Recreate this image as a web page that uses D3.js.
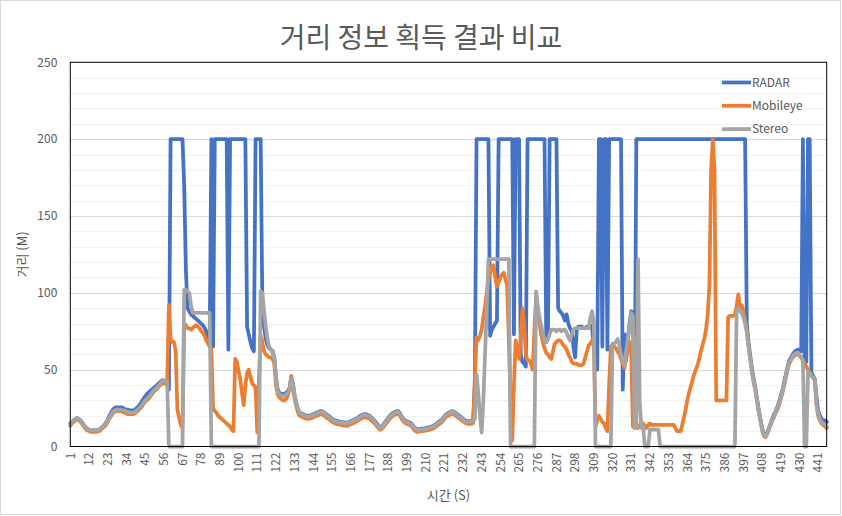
<!DOCTYPE html>
<html>
<head>
<meta charset="utf-8">
<script src="https://cdn.jsdelivr.net/npm/d3@7/dist/d3.min.js"></script>
<style>
  html, body { margin: 0; padding: 0; background: #fff; }
  svg { display: block; }
  text { font-family: "Noto Sans CJK KR", "Noto Sans", sans-serif; fill: #595959; }
</style>
</head>
<body>
<svg id="chart" width="842" height="516"></svg>
<script>
// ---------------- DATA ----------------
const chartTitle = "거리 정보 획득 결과 비교";
const xTitle = "시간 (S)";
const yTitle = "거리 (M)";
const seriesNames = ["RADAR", "Mobileye", "Stereo"];
const seriesColors = ["#4472C4", "#ED7D31", "#A5A5A5"];
const yTicks = [0, 50, 100, 150, 200, 250];
const yMinorTicks = [10,20,30,40,60,70,80,90,110,120,130,140,160,170,180,190,210,220,230,240];
const xTickLabels = [1,12,23,34,45,56,67,78,89,100,111,122,133,144,155,166,177,188,199,210,221,232,243,254,265,276,287,298,309,320,331,342,353,364,375,386,397,408,419,430,441];

const radar = [
15,16,17,18,18.5,18,17,15.5,14,12.5,
11.5,11,10.5,10.5,10.5,10.5,10.8,11,12,13,
14,15.5,17.5,20,22,24,25,25.5,25.5,25.5,
25.5,25,24.5,24,24,23.5,23.5,23.5,24,25,
26,27.5,29,31,32.5,34,35,36,37,38,
39,40,41,42,43,43,42,40,37,200,
200,200,200,200,200,200,200,170,115,90,
88,86,85,84,83,82,81,80,79,77,
75,72,68,200,65,200,200,200,200,200,
200,200,200,63,200,200,200,200,200,200,
200,200,200,200,78,73,68,64,62,200,
200,200,200,90,78,70,66,64,63,62,
58,45,37,35,34,34,34,35,36,38,
45,41,33,28,24,22,21.5,21,20.5,20,
20,20.3,20.5,21,21.5,22,22.5,23,23,22.5,
21.5,20.5,20,19,18,17.5,17,16.5,16.3,16,
15.8,15.7,15.5,15.5,16,16.5,17,17.5,18,18.7,
19.5,20.2,20.7,21,21,20.5,20,19,18,16.8,
15.5,14,12.5,12.7,14,15.5,17,18.5,20,21,
22,22.5,23,23,21.5,19.5,18,17,16.5,16,
15.5,14.5,13,12,11.2,11.3,11.5,11.7,11.8,12,
12.3,12.5,12.8,13.2,13.7,14.5,15.5,16.3,17,18,
19.5,20.8,21.5,22.2,22.7,23,22.5,21.5,20.5,20,
19,18,17.3,16.7,16.5,16.5,16.5,17,40,200,
200,200,200,200,200,200,200,72,76,78,
80,82,200,200,200,200,200,200,200,200,
200,73,200,200,200,60,55,54,52,200,
200,200,200,200,200,200,200,200,200,200,
68,70,200,200,200,200,200,90,88,87,
85,82,86,80,77,75,65,58,77,78,
78,78,77,77,78,78,79,77,65,55,
50,200,200,65,200,200,63,200,200,200,
200,200,200,200,200,37,73,56,70,80,
88,87,13,200,200,200,200,200,200,200,
200,200,200,200,200,200,200,200,200,200,
200,200,200,200,200,200,200,200,200,200,
200,200,200,200,200,200,200,200,200,200,
200,200,200,200,200,200,200,200,200,200,
200,200,200,200,200,200,200,200,200,200,
200,200,200,200,200,200,200,200,80,68,
59,51,44,38,31,24,18,12,8,7,
9,12,15,18,21,23,26,29,33,37,
42,47,52,56,58,60,61.5,62.5,63,63,
62,200,58,55,200,200,48,46,44,32,
23,20,18,17,17,16
];

const mobileye = [
13.5,15,16,17,17.5,17,16,14.5,13,11.5,
10.5,10,9.5,9.5,9.5,9.5,9.8,10,11,12,
13,14,16,18,20,21.5,22.5,23,23,23,
23,22.5,22,21.5,21,21,21,21,21.5,22.5,
23.5,24.5,26,27.5,29,30,31,32.5,34,35.5,
36.5,37.5,39,40,41,41,41,42,92,70,
68,68,62,24,19,14,12,80,79,77,
77,76,77,78,79,78,77,75,74,72,
69,67,65,64,25,23,22,20,19,18,
17,16,15,14,13,11,10,57,55,49,
44,35,27,40,48,50,45,41,40,38,
9,45,72,68,62,60,59,58,58,57,
54,40,34,32,31,30,30,31,33,37,
46,37,31,26,22,20,19.5,19,18.5,18,
18,18.3,18.5,19,19.5,20,20.5,21,21,20.5,
19.5,18.5,18,17,16,15.5,15,14.5,14.3,14,
13.8,13.7,13.5,13.5,14,14.5,15,15.5,16,16.7,
17.5,18.2,18.7,19,19,18.5,18,17,16,15,
13.7,12.3,11,11.2,12.3,13.7,15.2,16.7,18.2,19.2,
20.2,20.7,21.2,21.3,19.8,17.8,16.3,15.3,14.8,14.3,
13.8,12.8,11.2,10.2,9.5,9.6,9.8,10,10.1,10.3,
10.6,10.8,11.1,11.5,12,12.8,13.8,14.6,15.3,16.3,
17.8,19.1,19.8,20.5,21,21.4,20.8,19.8,18.8,18.2,
17.3,16.3,15.6,15,14.8,14.8,14.8,15.2,45,71,
69,72,76,84,91,100,108,113,117,118,
110,104,107,110,112,113,109,105,70,30,
4,40,69,63,57,70,90,80,60,56,
56,54,50,75,96,88,80,73,68,64,
61,60,58,57,62,67,68,69,69,68,
66,65,63,60,58,55,54,54,54,53,
53,53,54,58,62,66,67,69,70,13,
17,20,18,16,15,12,10,40,65,66,
65,64,62,60,57,54,51,58,66,68,
60,13,12,13,12,14,15,15,13,12,
14,15,14,14,14,14,14,14,14,14,
14,14,14,14,14,14,12,10,10,10,
14,19,24,30,35,39,43,47,50,53,
57,62,66,70,76,86,105,180,200,180,
30,30,30,30,30,30,30,84,85,85,
85,86,91,99,90,92,88,82,76,65,
57,49,42,37,30,23,17,11,7,6,
8,11,14,17,19,22,24,27,31,35,
40,45,50,54,56,58,59,60,60,59,
58,56,54,52,50,48,46,45,43,27,
20,17,15,14,13,12
];

const stereo = [
15,16,17,18,18.3,18,17,15.5,14,12.5,
11.5,11,10.5,10.5,10.5,10.5,10.8,11,12,13,
14,15,17,19,21,22.5,23.5,24,24,24,
24,23.5,23.3,23,22.5,22,22,22,22.5,23.5,
24.5,25.5,27,28.5,30,31,32,33.5,35,36.5,
37.5,38.5,40,41,42.5,43,43,42,0,0,
0,0,0,0,0,0,0,102,102,101,
100,92,87,87,87,87,87,87,87,87,
87,87,87,0,0,0,0,0,0,0,
0,0,0,0,0,0,0,0,0,0,
0,0,0,0,0,0,0,0,0,0,
0,0,101,100,88,78,70,65,63,61,
58,45,36,34,33,33,33,34,35,37,
44,40,33,28,24,22,21,20.5,20,19.5,
19.5,19.8,20,20.5,21,21.5,22,22.5,22.6,22,
21,20,19.4,18.5,17.5,17,16.3,16,15.8,15.5,
15.3,15.2,15,15,15.5,16,16.5,17,17.5,18.2,
19,19.7,20.2,20.5,20.5,20,19.5,18.5,17.5,16.3,
15,13.5,12,12.2,13.5,15,16.5,18,19.5,20.5,
21.5,22,22.5,22.6,21,19,17.5,16.5,16,15.5,
15,14,12.5,11.5,10.7,10.8,11,11.2,11.3,11.5,
11.8,12,12.3,12.7,13.2,14,15,15.8,16.5,17.5,
19,20.3,21,21.7,22.2,22.6,22,21,20,19.4,
18.5,17.5,16.8,16.2,16,16,16,16.5,18,47,
35,20,9,30,60,90,122,122,122,122,
122,122,122,122,122,122,122,122,122,0,
0,0,0,0,0,0,0,0,0,0,
0,0,0,0,101,92,84,79,74,69,
68,70,73,76,76,76,75,76,76,75,
76,76,74,71,69,73,76,77,77,77,
77,77,77,77,77,77,84,88,80,0,
0,0,0,0,0,0,0,0,0,67,
67,68,70,66,60,56,53,62,70,78,
87,85,12,12,122,30,12,13,0,0,
0,11,11,11,11,11,11,0,0,0,
0,0,0,0,0,0,0,0,0,0,
0,0,0,0,0,0,0,0,0,0,
0,0,0,0,0,0,0,0,0,0,
0,0,0,0,0,0,0,0,0,0,
0,0,88,90,88,87,84,80,74,65,
57,49,42,37,30,23,17,11,7,6.5,
8.5,11.5,14.5,17.5,20,22.5,25,28,32,36,
41,46,51,55,57,59,60,61,61,60,
58,56,0,0,49,48,46,45,43,28,
21,18,16,15,14,13
];

const times = d3.range(1, radar.length + 1);

// ---------------- LAYOUT ----------------
const W = 842, H = 516;
const plot = { left: 70.3, top: 62.3, right: 826.7, bottom: 446.5 };
const lineWidth = 3.75;

const svg = d3.select("#chart");

// outer chart border
svg.append("rect")
  .attr("x", 0.5).attr("y", 0.5).attr("width", W - 2).attr("height", H - 2)
  .attr("fill", "#fff").attr("stroke", "#d9d9d9");

const x = d3.scalePoint().domain(times).range([plot.left, plot.right]);
const y = d3.scaleLinear().domain([0, 250]).range([plot.bottom, plot.top]);

// minor gridlines
svg.append("g").selectAll("line").data(yMinorTicks).join("line")
  .attr("x1", plot.left).attr("x2", plot.right)
  .attr("y1", d => Math.round(y(d)) + 0.5).attr("y2", d => Math.round(y(d)) + 0.5)
  .attr("stroke", "#f2f2f2").attr("stroke-width", 1);

// major gridlines
svg.append("g").selectAll("line").data(yTicks.filter(d => d > 0 && d < 250)).join("line")
  .attr("x1", plot.left).attr("x2", plot.right)
  .attr("y1", d => Math.round(y(d)) + 0.5).attr("y2", d => Math.round(y(d)) + 0.5)
  .attr("stroke", "#d9d9d9").attr("stroke-width", 1);

// y tick labels
svg.append("g").selectAll("text").data(yTicks).join("text")
  .attr("x", plot.left - 13).attr("y", d => y(d))
  .attr("dy", "0.35em").attr("text-anchor", "end")
  .style("font-size", "12px")
  .text(d => d);

// x tick labels (rotated)
svg.append("g").selectAll("text").data(xTickLabels).join("text")
  .attr("transform", d => `translate(${x(d)},${plot.bottom + 6}) rotate(-90)`)
  .attr("dy", "0.35em").attr("text-anchor", "end")
  .style("font-size", "12px")
  .text(d => d);

// series lines
const line = d3.line()
  .x((d, i) => x(times[i]))
  .y(d => y(d))
  .curve(d3.curveLinear);

const allSeries = [radar, mobileye, stereo];
svg.append("g").selectAll("path").data(allSeries).join("path")
  .attr("d", d => line(d))
  .attr("fill", "none")
  .attr("stroke", (d, i) => seriesColors[i])
  .attr("stroke-width", lineWidth)
  .attr("stroke-linejoin", "round")
  .attr("stroke-linecap", "round");

// plot area border
svg.append("rect")
  .attr("x", plot.left).attr("y", plot.top)
  .attr("width", plot.right - plot.left).attr("height", plot.bottom - plot.top)
  .attr("fill", "none").attr("stroke", "#000").attr("stroke-width", 1);

// legend
const legend = svg.append("g");
seriesNames.forEach((name, i) => {
  const ly = 82.5 + i * 23.3;
  legend.append("line")
    .attr("x1", 722).attr("x2", 751).attr("y1", ly).attr("y2", ly)
    .attr("stroke", seriesColors[i]).attr("stroke-width", lineWidth);
  legend.append("text")
    .attr("x", 752).attr("y", ly).attr("dy", "0.35em")
    .style("font-size", "12px")
    .text(name);
});

// titles
svg.append("text")
  .attr("x", W / 2).attr("y", 38).attr("dy", "0.35em")
  .attr("text-anchor", "middle")
  .style("font-size", "28px")
  .text(chartTitle);

svg.append("text")
  .attr("x", (plot.left + plot.right) / 2).attr("y", 495).attr("dy", "0.35em")
  .attr("text-anchor", "middle")
  .style("font-size", "13px")
  .text(xTitle);

svg.append("text")
  .attr("transform", `translate(22,${(plot.top + plot.bottom) / 2}) rotate(-90)`)
  .attr("dy", "0.35em")
  .attr("text-anchor", "middle")
  .style("font-size", "13px")
  .text(yTitle);
</script>
</body>
</html>
